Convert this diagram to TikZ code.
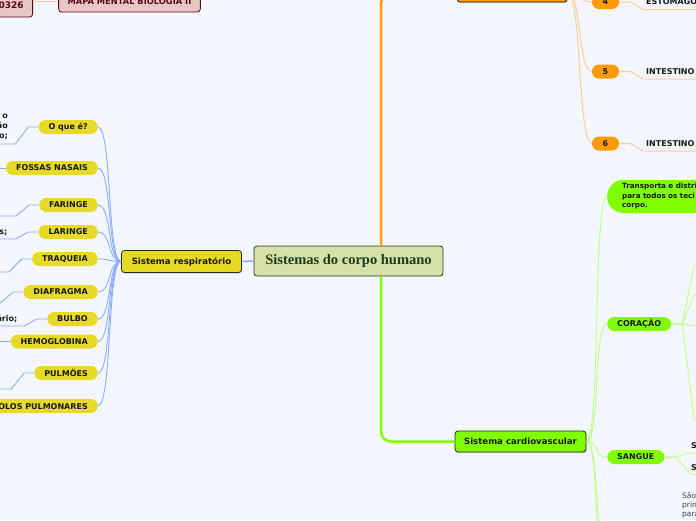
\documentclass[tikz,border=0pt]{standalone}
\usepackage{fontspec}
\setmainfont{DejaVu Sans}
\newfontfamily\serifbold{Liberation Serif}
\usetikzlibrary{shadows}

\definecolor{paper}{HTML}{F3F6FE}
\definecolor{pillyellow}{HTML}{E6DA26}
\definecolor{respblue}{HTML}{8CAEFF}
\definecolor{digorange}{HTML}{FF9A00}
\definecolor{lightorange}{HTML}{FFCC96}
\definecolor{cardgreen}{HTML}{80FF00}
\definecolor{lightgreen}{HTML}{BEFF8C}
\definecolor{rootfill}{HTML}{D6E0A8}
\definecolor{rootdraw}{HTML}{1C3C1C}
\definecolor{pinkfill}{HTML}{E8C6C8}
\definecolor{darkred}{HTML}{5A0A14}

\begin{document}
\begin{tikzpicture}[x=1pt,y=-1pt,
      every node/.style={font=\fontsize{8}{10}\selectfont\bfseries,inner ysep=0pt,text=black!90},
      leaf/.style={inner xsep=0pt},
      pill/.style={rounded corners=7pt,minimum height=14pt,inner xsep=10pt},
      mainbox/.style={draw=black!85,line width=0.8pt,rounded corners=3pt,minimum height=22pt,
        inner xsep=9pt,font=\fontsize{8.6}{10}\selectfont\bfseries,
        drop shadow={shadow xshift=0.7pt,shadow yshift=-1.2pt,opacity=0.35}},
      titlebox/.style={draw=darkred,fill=pinkfill,line width=0.8pt,rounded corners=3pt,
        minimum height=21pt,inner xsep=9pt,text=darkred,font=\fontsize{8.3}{10}\selectfont\bfseries},
      respline/.style={draw=respblue,line width=0.9pt},
      digline/.style={draw=lightorange,line width=1pt},
      cardline/.style={draw=lightgreen,line width=1pt}]
  \useasboundingbox (0,0) rectangle (696,520);
  \clip (0,0) rectangle (696,520);
  \fill[paper] (0,0) rectangle (696,520);

  \node[draw=rootdraw,fill=rootfill,line width=0.8pt,rounded corners=3pt,minimum width=189pt,
    minimum height=30pt,text=rootdraw,font=\serifbold\fontsize{14.5}{16}\selectfont\bfseries]
    (root) at (348.5,261) {Sistemas do corpo humano};
  \coordinate (trunk) at (381,261);

  \node[titlebox,minimum width=141pt] (mapa) at (129.5,1.5) {MAPA MENTAL BIOLOGIA II};
  \node[titlebox,anchor=east,minimum height=24pt,text width=50pt,align=right,
    font=\fontsize{9}{10}\selectfont\bfseries] (ra) at (33,5) {0326};
  \draw[digline] (mapa.west) -- (mapa.west -| ra.east);

  % respiratorio
  \node[mainbox,fill=pillyellow,minimum width=120pt] (resp) at (181.5,261.5) {Sistema respiratório};
  \draw[respblue,line width=1.5pt] (root.west) -- (resp.east);
  \foreach \name/\txt/\y in {oque/O que é?/127, fossas/FOSSAS NASAIS/168, faringe/FARINGE/205,
      laringe/LARINGE/232, traqueia/TRAQUEIA/259, diafragma/DIAFRAGMA/292, bulbo/BULBO/319,
      hemo/HEMOGLOBINA/341.5, pulmoes/PULMÕES/373, alveolos/ALVÉOLOS PULMONARES/406}
  {
    \node[pill,fill=pillyellow,anchor=east] (\name) at (98,\y) {\txt};
    \draw[respline] (resp.west) .. controls +(-14,0) and +(14,0) .. (\name.east);
  }
  \foreach \name/\dy in {oque/17,faringe/11,laringe/7,traqueia/13,diafragma/11,bulbo/7,pulmoes/16}
    \draw[respline] (\name.west) -- ++(-10,0) -- ++(-13,\dy) -- ++(-40,0);
  \foreach \name in {fossas,hemo}
    \draw[respline] (\name.west) -- ++(-20,0);
  \node[leaf,anchor=east,align=right] (oquetxt) at (8,127) {o\\ão\\o;};
  \node[leaf,anchor=east] (laringetxt) at (7.5,233) {s;};
  \node[leaf,anchor=east] (bulbotxt) at (17.5,319) {ário;};

  % digestorio
  \node[mainbox,fill=digorange,minimum width=110pt,minimum height=21pt] (dig) at (512,-8.5) {};
  \draw[digorange,line width=2.5pt,rounded corners=12pt] (trunk |- root.north) |- (dig.west);
  \foreach \name/\txt/\y in {n4/4/2, n5/5/71.5, n6/6/143.5}
  {
    \node[pill,fill=digorange,minimum width=27pt,inner xsep=0pt] (\name) at (605.5,\y) {\txt};
    \draw[digline] (dig.east) .. controls +(14,0) and +(-14,0) .. (\name.west);
    \draw[digline] (\name.east) -- ++(11,0) -- ++(13,7.5) -- ++(60,0);
  }
  \node[leaf,anchor=west] (estomago) at (646,1) {ESTÔMAGO};
  \node[leaf,anchor=west] (delgado) at (646,71.5) {INTESTINO};
  \node[leaf,anchor=west] (grosso) at (646,143.5) {INTESTINO};

  % cardiovascular
  \node[mainbox,fill=cardgreen,minimum width=127pt,minimum height=21pt] (card) at (520.5,441.5) {Sistema cardiovascular};
  \draw[cardgreen,line width=2.5pt,rounded corners=10pt] (trunk |- root.south) |- (card.west);
  \node[pill,fill=cardgreen,anchor=west,rounded corners=16pt,minimum height=33pt,inner xsep=15pt,
    text width=110pt,align=left,font=\fontsize{7.2}{9.5}\selectfont\bfseries]
    (transp) at (607,196.5) {Transporta e distri\\para todos os teci\\corpo.};
  \node[pill,fill=cardgreen,anchor=west] (coracao) at (607,324) {CORAÇÃO};
  \node[pill,fill=cardgreen,anchor=west] (sangue) at (607,457) {SANGUE};
  \coordinate (vasos) at (607,545);
  \coordinate (outros) at (607,585);
  \foreach \name in {transp,coracao,sangue}
    \draw[cardline] (card.east) .. controls +(14,0) and +(-14,0) .. (\name.west);
  \foreach \name in {vasos,outros}
    \draw[cardline] (card.east) .. controls +(14,0) and +(-14,0) .. (\name);
  \foreach \dx/\dy in {12/-59, 12/-29, 20/3, 12/96}
    \draw[cardline] (coracao.east) -- ++(11,0) -- ++(\dx,\dy) -- ++(20,0);
  \foreach \dx/\dy in {13/-4, 15/17}
    \draw[cardline] (sangue.east) -- ++(11,0) -- ++(\dx,\dy) -- ++(20,0);
  \node[leaf,anchor=west] (sa) at (691,446) {S};
  \node[leaf,anchor=west] (sb) at (691,468) {S};
  \node[leaf,anchor=north west,align=left,font=\fontsize{7.5}{9}\selectfont,text=black!75]
    (sao) at (682,492.5) {São\\prin\\para};
\end{tikzpicture}
\end{document}
